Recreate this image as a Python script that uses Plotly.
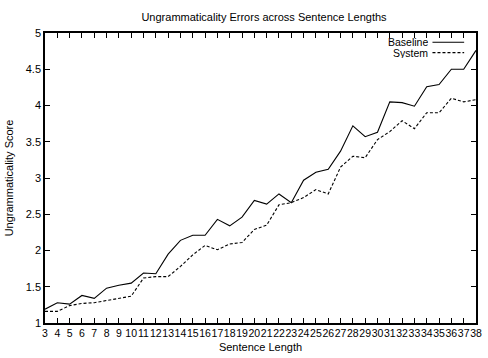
import plotly.graph_objects as go

lengths = list(range(3, 39))
baseline = [1.19, 1.28, 1.26, 1.38, 1.34, 1.48, 1.52, 1.55, 1.69, 1.68,
            1.95, 2.14, 2.21, 2.21, 2.43, 2.34, 2.46, 2.69, 2.64, 2.78,
            2.66, 2.97, 3.08, 3.12, 3.37, 3.72, 3.57, 3.63, 4.05, 4.04,
            3.99, 4.26, 4.29, 4.50, 4.50, 4.76]
system = [1.16, 1.16, 1.24, 1.27, 1.28, 1.31, 1.35, 1.37, 1.62, 1.64,
          1.64, 1.78, 1.94, 2.07, 2.01, 2.09, 2.11, 2.29, 2.35, 2.63,
          2.66, 2.73, 2.84, 2.78, 3.15, 3.30, 3.28, 3.53, 3.64, 3.79,
          3.68, 3.90, 3.90, 4.10, 4.05, 4.08]
series_names = ["Baseline", "System"]
y_ticks = [1, 1.5, 2, 2.5, 3, 3.5, 4, 4.5, 5]

FONT = "Liberation Sans, Arial, sans-serif"

fig = go.Figure()
fig.add_trace(go.Scatter(x=lengths, y=baseline, mode="lines", name=series_names[0],
                         line=dict(color="black", width=1.1)))
fig.add_trace(go.Scatter(x=lengths, y=system, mode="lines", name=series_names[1],
                         line=dict(color="black", width=1.1, dash="3px,2px")))

axis_common = dict(showline=True, linecolor="black", linewidth=1.5, mirror="ticks",
                   ticks="inside", ticklen=5, tickcolor="black", tickwidth=1.2,
                   showgrid=False, zeroline=False)

fig.update_layout(
    width=488, height=358,
    margin=dict(l=45, r=6, t=33, b=33),
    paper_bgcolor="white", plot_bgcolor="white",
    showlegend=False,
    font=dict(family=FONT, size=11, color="black"),
    title=dict(text="Ungrammaticality Errors across Sentence Lengths",
               x=0.541, xanchor="center", y=1 - 17 / 358, yanchor="middle",
               font=dict(family=FONT, size=11, color="black")),
    xaxis=dict(range=[3, 38], tickmode="array", tickvals=lengths,
               ticktext=[str(v) for v in lengths], tickangle=0,
               tickfont=dict(family=FONT, size=10.5, color="black"),
               title=dict(text="Sentence Length", standoff=5,
                          font=dict(family=FONT, size=11)),
               **axis_common),
    yaxis=dict(range=[1, 5], tickmode="array", tickvals=y_ticks,
               ticktext=[f"{v:g}" for v in y_ticks],
               tickfont=dict(family=FONT, size=11, color="black"),
               title=dict(text="Ungrammaticality Score", standoff=10,
                          font=dict(family=FONT, size=11)),
               **axis_common),
)

# gnuplot-style legend: text on the left, line sample on the right
legend_rows = [(series_names[0], 0.968, "solid"), (series_names[1], 0.9325, "3px,2px")]
for name, yy, dash in legend_rows:
    fig.add_annotation(x=0.892, y=yy, xref="paper", yref="paper", text=name,
                       showarrow=False, xanchor="right", yanchor="middle",
                       height=10, borderpad=0,
                       font=dict(family=FONT, size=10.5, color="black"))
    fig.add_shape(type="line", xref="paper", yref="paper", x0=0.899, x1=0.9725,
                  y0=yy, y1=yy, line=dict(color="black", width=1.1, dash=dash))

fig.write_html("out.html")
